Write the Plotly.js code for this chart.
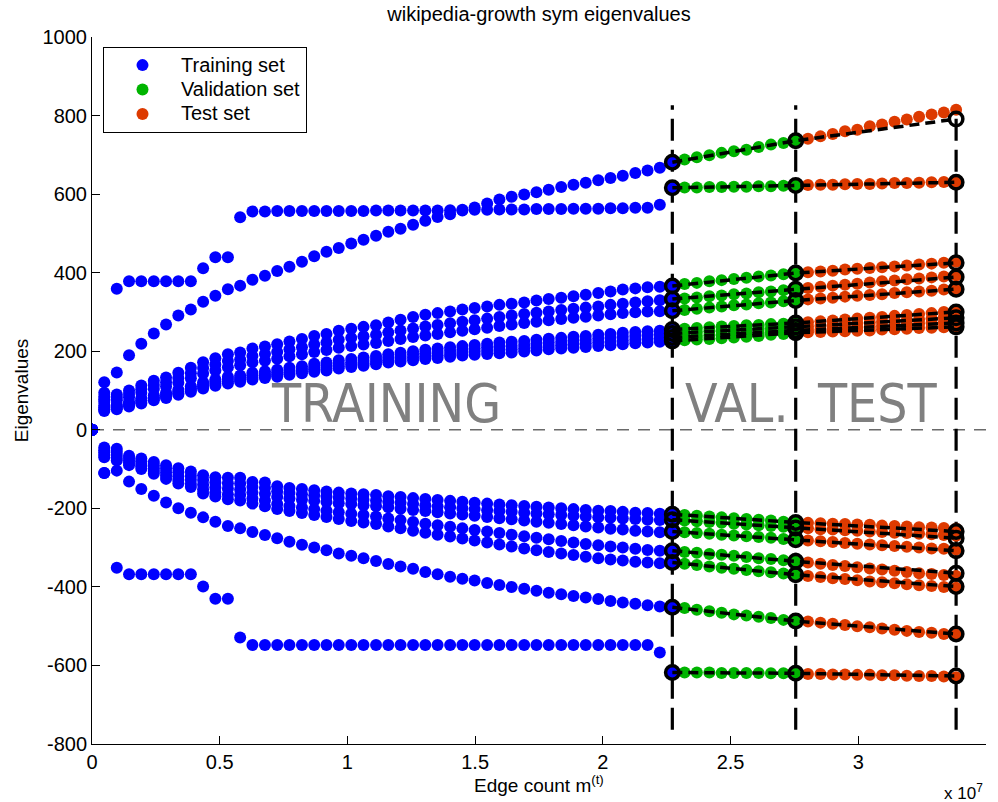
<!DOCTYPE html>
<html><head><meta charset="utf-8">
<script src="https://cdn.plot.ly/plotly-3.0.1.min.js"></script>
<style>html,body{margin:0;padding:0;background:#fff}#chart{width:998px;height:802px}</style>
</head><body><div id="chart"></div>
<script>
// Edge counts (units of 1e7) at each snapshot
const xTrain = [0,0.048,0.097,0.145,0.193,0.242,0.290,0.338,0.387,0.435,0.483,0.532,0.580,0.628,0.677,0.725,0.773,0.822,0.870,0.918,0.966,1.015,1.063,1.112,1.160,1.208,1.257,1.305,1.353,1.402,1.450,1.498,1.547,1.595,1.643,1.692,1.740,1.788,1.837,1.885,1.933,1.982,2.030,2.078,2.127,2.175,2.223,2.272];
const xVal = [2.320,2.368,2.417,2.465,2.513,2.562,2.610,2.658,2.707,2.755];
const xTest = [2.803,2.852,2.900,2.948,2.996,3.045,3.093,3.142,3.190,3.238,3.287,3.335,3.383];

// Positive eigenvalues (rank 1 = largest)
const train_p1 = [0,121,359,378,378,378,378,378,378,411,439,439,541,556,556,557,557,557,557,557,557,557,557,558,558,558,558,558,558,559,560,566,576,586,593,599,605,611,618,624,629,635,641,647,654,660,667,681];
const train_p2 = [0,94,146,190,219,245,268,291,306,326,341,358,367,382,392,404,415,428,442,453,463,474,484,494,504,512,522,532,542,549,558,560,560,561,561,561,562,562,562,563,563,563,564,564,565,565,573,616];
const train_p3 = [0,85,90,100,113,125,133,145,158,172,182,192,197,207,212,218,225,231,239,244,252,257,262,266,273,280,287,293,297,301,306,310,314,318,321,324,329,333,336,340,344,348,352,357,360,363,364,366];
const train_p4 = [0,78,82,91,103,114,121,132,144,157,166,175,179,188,193,198,205,210,217,222,229,234,238,242,248,253,258,263,267,271,275,279,283,287,291,295,298,301,305,308,311,314,318,321,324,327,330,333];
const train_p5 = [0,71,75,83,94,104,110,120,131,143,151,159,164,172,176,181,187,192,198,203,209,213,217,221,226,231,236,240,244,248,252,256,260,264,268,272,275,279,282,285,288,291,294,297,299,301,302,303];
const train_p6 = [0,62,64,71,80,88,94,102,111,121,128,135,138,145,149,153,158,162,168,171,177,180,184,188,192,196,200,204,207,210,213,216,219,222,224,226,229,232,234,237,239,242,244,247,249,251,252,255];
const train_p7 = [0,57,60,67,75,83,89,97,106,115,122,129,132,139,142,146,151,155,160,164,169,172,176,180,184,188,192,195,198,201,204,207,210,212,214,216,219,222,224,227,229,232,234,237,239,241,243,245];
const train_p8 = [0,52,56,63,71,79,85,93,101,110,117,123,127,133,137,140,145,149,154,157,162,166,169,173,177,181,184,187,190,193,196,199,201,203,205,207,210,213,215,218,220,222,224,227,229,231,233,235];
const train_p9 = [0,48,52,59,67,75,81,89,97,105,112,118,122,128,132,135,140,144,148,151,156,160,163,167,171,174,177,180,183,186,189,191,193,195,197,199,202,205,207,209,211,213,215,218,220,222,224,226];

const val_p1 = [688,694,699,705,709,713,720,726,730,736];
const val_p2 = [617,617,618,618,619,619,620,620,621,622];
const val_p3 = [371,374,378,381,384,387,390,393,396,399];
const val_p4 = [334,337,340,342,345,347,350,352,355,358];
const val_p5 = [305,308,311,314,317,319,322,324,327,329];
const val_p6 = [257,259,261,263,264,266,267,269,270,272];
const val_p7 = [247,249,251,252,254,255,257,258,260,262];
const val_p8 = [237,239,240,242,243,245,247,249,251,253];
const val_p9 = [228,230,231,233,235,237,239,242,244,247];

const test_p1 = [741,747,753,760,764,773,777,784,790,797,803,808,815];
const test_p2 = [623,624,624,625,626,626,627,628,628,629,630,631,632];
const test_p3 = [401,403,405,408,410,412,414,416,418,421,423,425,428];
const test_p4 = [361,364,367,369,372,375,378,380,383,385,388,390,393];
const test_p5 = [332,334,336,339,341,343,345,348,350,352,354,357,359];
const test_p6 = [274,276,278,281,283,285,287,290,292,295,297,300,303];
const test_p7 = [263,265,267,269,271,273,275,277,279,281,283,286,288];
const test_p8 = [254,255,257,258,260,262,264,266,268,270,272,273,275];
const test_p9 = [248,249,250,251,252,253,255,256,257,259,260,261,263];

// Negative eigenvalues (rank 1 = closest to zero)
const train_n1 = [0,-45,-48,-66,-73,-82,-90,-98,-106,-116,-121,-122,-122,-133,-134,-144,-148,-151,-154,-157,-160,-162,-164,-166,-169,-171,-174,-176,-179,-181,-183,-186,-188,-190,-192,-194,-196,-198,-200,-202,-204,-206,-207,-209,-211,-212,-214,-215];
const train_n2 = [0,-52,-56,-72,-80,-90,-99,-108,-117,-128,-134,-136,-137,-146,-148,-157,-161,-164,-167,-170,-173,-175,-178,-180,-183,-186,-189,-192,-195,-197,-200,-202,-205,-207,-209,-211,-213,-215,-217,-219,-221,-223,-224,-226,-227,-229,-230,-229];
const train_n3 = [0,-58,-64,-78,-87,-98,-108,-118,-127,-140,-147,-150,-152,-160,-163,-171,-175,-178,-181,-184,-187,-189,-192,-194,-197,-201,-204,-207,-210,-213,-216,-219,-222,-225,-228,-231,-234,-237,-240,-243,-246,-249,-252,-254,-257,-259,-261,-259];
const train_n4 = [0,-64,-72,-84,-93,-105,-117,-128,-138,-152,-160,-165,-166,-175,-180,-189,-194,-198,-202,-206,-210,-214,-217,-221,-226,-230,-235,-239,-243,-247,-251,-255,-259,-263,-267,-271,-275,-279,-283,-287,-291,-294,-297,-300,-303,-306,-308,-308];
const train_n5 = [0,-70,-78,-90,-100,-112,-125,-137,-146,-162,-170,-177,-180,-188,-195,-202,-207,-212,-217,-222,-227,-232,-236,-240,-246,-251,-257,-262,-267,-272,-277,-282,-287,-292,-297,-302,-307,-311,-315,-319,-323,-327,-330,-333,-336,-338,-340,-338];
const train_n6 = [0,-110,-104,-132,-151,-168,-185,-200,-211,-223,-234,-245,-251,-260,-268,-276,-285,-293,-300,-307,-315,-321,-327,-334,-342,-348,-354,-362,-368,-374,-379,-384,-390,-395,-400,-405,-410,-415,-419,-423,-427,-431,-436,-440,-443,-447,-450,-452];
const train_n7 = [0,-110,-351,-368,-368,-368,-368,-368,-368,-399,-430,-430,-529,-548,-548,-548,-548,-548,-548,-548,-548,-548,-548,-548,-548,-548,-548,-548,-548,-548,-548,-548,-548,-548,-548,-548,-548,-548,-548,-548,-548,-548,-548,-548,-548,-548,-567,-618];

const val_n1 = [-217,-219,-221,-223,-225,-227,-229,-231,-234,-236];
const val_n2 = [-231,-233,-235,-237,-239,-241,-243,-245,-247,-250];
const val_n3 = [-261,-263,-265,-267,-269,-271,-273,-275,-278,-280];
const val_n4 = [-311,-313,-316,-318,-321,-324,-327,-329,-332,-335];
const val_n5 = [-341,-344,-348,-351,-354,-357,-360,-363,-366,-369];
const val_n6 = [-454,-458,-462,-466,-470,-473,-476,-479,-484,-487];
const val_n7 = [-618,-618,-618,-619,-619,-619,-619,-620,-620,-620];

const test_n1 = [-237,-238,-239,-240,-241,-242,-244,-245,-246,-248,-249,-250,-252];
const test_n2 = [-251,-253,-254,-256,-257,-259,-260,-262,-263,-265,-266,-268,-270];
const test_n3 = [-282,-284,-286,-288,-290,-292,-294,-296,-298,-300,-302,-303,-305];
const test_n4 = [-338,-341,-344,-347,-350,-353,-356,-359,-362,-365,-367,-370,-372];
const test_n5 = [-372,-375,-378,-380,-383,-386,-388,-391,-393,-396,-398,-400,-402];
const test_n6 = [-488,-491,-494,-497,-500,-503,-506,-509,-512,-515,-517,-520,-522];
const test_n7 = [-622,-622,-623,-623,-624,-624,-625,-625,-626,-627,-627,-628,-630];

// Predicted values at the end of the test period
const pred_pos = [791,630,425,389,358,300,285,272,262];
const pred_neg = [-259,-276,-308,-365,-399,-520,-627];

const xTickVals = [0,0.5,1,1.5,2,2.5,3,3.5];
const xTickText = ['0','0.5','1','1.5','2','2.5','3','3.5'];
const yTickVals = [-800,-600,-400,-200,0,200,400,600,800,1000];
const yTickText = ['-800','-600','-400','-200','0','200','400','600','800','1000'];

const trainSets = [train_p1,train_p2,train_p3,train_p4,train_p5,train_p6,train_p7,train_p8,train_p9,train_n1,train_n2,train_n3,train_n4,train_n5,train_n6,train_n7];
const valSets = [val_p1,val_p2,val_p3,val_p4,val_p5,val_p6,val_p7,val_p8,val_p9,val_n1,val_n2,val_n3,val_n4,val_n5,val_n6,val_n7];
const testSets = [test_p1,test_p2,test_p3,test_p4,test_p5,test_p6,test_p7,test_p8,test_p9,test_n1,test_n2,test_n3,test_n4,test_n5,test_n6,test_n7];
const predSets = pred_pos.concat(pred_neg);

function collect(xs, sets){const x=[],y=[];sets.forEach(s=>s.forEach((v,i)=>{x.push(xs[i]);y.push(v);}));return {x,y};}
const tr = collect(xTrain, trainSets), va = collect(xVal, valSets), te = collect(xTest, testSets);

const bTrain = xTrain[xTrain.length-1], bVal = xVal[xVal.length-1], bTest = xTest[xTest.length-1];
const fitX=[], fitY=[], cirX=[], cirY=[];
trainSets.forEach((s,i)=>{
  const a=s[s.length-1], b=valSets[i][valSets[i].length-1], c=predSets[i];
  fitX.push(bTrain,bVal,bTest,null); fitY.push(a,b,c,null);
  cirX.push(bTrain,bVal,bTest); cirY.push(a,b,c);
});
const vTop = 826, vBottom = -764;
const vx=[], vy=[];
[bTrain,bVal,bTest].forEach(b=>{vx.push(b,b,null);vy.push(vBottom,vTop,null);});

const BLUE='#0000ff', GREEN='#00b400', RED='#dd3a00';
const MS = 12;
const traces = [
  {x:vx,y:vy,mode:'lines',line:{color:'#000',width:3.2,dash:'22px,9px'},showlegend:false,hoverinfo:'skip'},
  {x:tr.x,y:tr.y,mode:'markers',name:'<span style="font-size:20px">Training set</span>',marker:{color:BLUE,size:MS}},
  {x:va.x,y:va.y,mode:'markers',name:'<span style="font-size:20px">Validation set</span>',marker:{color:GREEN,size:MS}},
  {x:te.x,y:te.y,mode:'markers',name:'<span style="font-size:20px">Test set</span>',marker:{color:RED,size:MS}},
  {x:fitX,y:fitY,mode:'lines',line:{color:'#000',width:3.5,dash:'10px,6px'},showlegend:false,hoverinfo:'skip'},
  {x:cirX,y:cirY,mode:'markers',marker:{symbol:'circle-open',size:13.5,color:'#000',line:{width:3.5,color:'#000'}},showlegend:false,hoverinfo:'skip'}
];

const FONT = 'Liberation Sans, Arial, Helvetica, sans-serif';
const BIG = {family:'DejaVu Sans Condensed, DejaVu Sans, sans-serif', size:53, color:'#808080'};
const layout = {
  width:998, height:802,
  margin:{l:92,r:12,t:37,b:58},
  paper_bgcolor:'#fff', plot_bgcolor:'#fff',
  font:{family:FONT,size:20,color:'#000'},
  title:{text:'wikipedia-growth sym eigenvalues',x:0.5,xref:'paper',xanchor:'center',y:0.982,yref:'container',yanchor:'middle',font:{size:20}},
  xaxis:{range:[0,3.5],tickvals:xTickVals,ticktext:xTickText,ticks:'inside',ticklen:8,tickwidth:1,tickcolor:'#000',showline:true,linecolor:'#000',linewidth:1,showgrid:false,zeroline:false},
  yaxis:{range:[-800,1000],tickvals:yTickVals,ticktext:yTickText,ticks:'inside',ticklen:8,tickwidth:1,tickcolor:'#000',showline:true,linecolor:'#000',linewidth:1,showgrid:false,zeroline:false,
    title:{text:'Eigenvalues',standoff:8,font:{size:19}}},
  legend:{x:0.0123,y:0.986,xanchor:'left',yanchor:'top',bordercolor:'#000',borderwidth:1,bgcolor:'#fff',itemwidth:67,font:{size:16.5}},
  shapes:[{type:'line',xref:'paper',x0:0,x1:1,yref:'y',y0:0,y1:0,line:{color:'#6a6a6a',width:1.5,dash:'12px,9px'},layer:'below'}],
  annotations:[
    {text:'TRAINING',x:1.152,y:66,xref:'x',yref:'y',showarrow:false,font:BIG},
    {text:'VAL.',x:2.525,y:66,xref:'x',yref:'y',showarrow:false,font:BIG},
    {text:'TEST',x:3.077,y:66,xref:'x',yref:'y',showarrow:false,font:BIG},
    {text:'Edge count m<sup>(t)</sup>',x:0.5,y:-0.056,xref:'paper',yref:'paper',xanchor:'center',yanchor:'middle',showarrow:false,font:{size:19}},
    {text:'x 10<sup>7</sup>',x:0.999,y:-0.068,xref:'paper',yref:'paper',xanchor:'right',yanchor:'middle',showarrow:false,font:{size:17}}
  ]
};
Plotly.newPlot('chart',traces,layout,{displayModeBar:false,staticPlot:true});
</script></body></html>
